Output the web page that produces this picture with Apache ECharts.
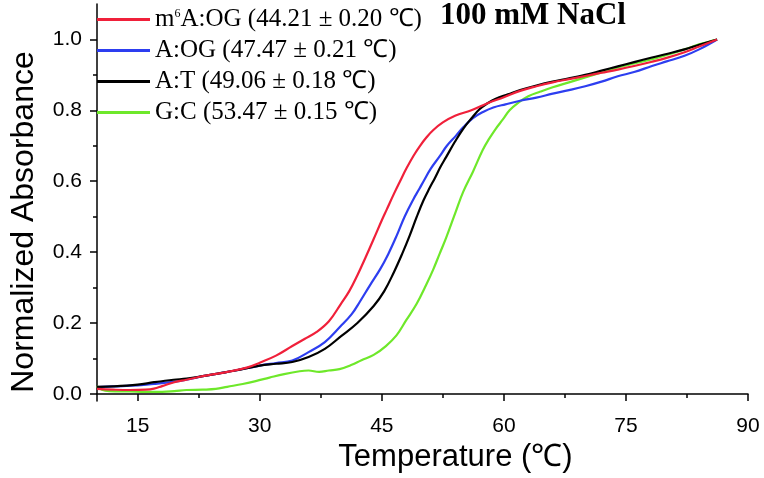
<!DOCTYPE html>
<html><head><meta charset="utf-8">
<script src="https://cdn.jsdelivr.net/npm/echarts@6/dist/echarts.min.js"></script>
<style>html,body{margin:0;padding:0;background:#fff}#c{width:764px;height:478px}</style>
</head><body><div id="c"></div>
<script>
// ---- data ----
const seriesNames = [
  'm6A:OG (44.21 ± 0.20 ℃)',
  'A:OG (47.47 ± 0.21 ℃)',
  'A:T (49.06 ± 0.18 ℃)',
  'G:C (53.47 ± 0.15 ℃)'
];
const seriesColors = ['#f0203a', '#2d3ef0', '#000000', '#6ee82a'];
const xTicks = [15, 30, 45, 60, 75, 90];
const xMinorTicks = [22.5, 37.5, 52.5, 67.5, 82.5];
const yTicks = [0, 0.2, 0.4, 0.6, 0.8, 1.0];
const yMinorTicks = [0.1, 0.3, 0.5, 0.7, 0.9];

const m6AOG = [[10,0.014],[12,0.012],[14,0.011],[16,0.012],[17,0.015],[18,0.022],[19.5,0.033],[21,0.04],[23,0.05],[25,0.058],[26.7,0.065],[28.5,0.075],[30,0.088],[32,0.108],[34,0.135],[35.5,0.155],[37,0.175],[38.5,0.205],[40,0.255],[41,0.29],[42,0.335],[43,0.385],[44,0.437],[45,0.49],[45.6,0.52],[46.5,0.565],[47.2,0.598],[48,0.635],[48.9,0.672],[49.7,0.7],[50.5,0.724],[51.3,0.744],[52.5,0.766],[54,0.785],[56,0.8],[58,0.82],[60,0.837],[62,0.855],[64,0.868],[66,0.879],[68,0.888],[70,0.897],[72,0.906],[74,0.915],[76,0.925],[78.2,0.937],[80,0.948],[82.2,0.964],[84,0.98],[86.2,1.0]];
const AOG = [[10,0.019],[12,0.021],[15,0.024],[17,0.028],[19.4,0.034],[21,0.04],[23,0.05],[25,0.058],[27,0.066],[30,0.08],[32,0.087],[34,0.094],[36,0.118],[38,0.146],[39.9,0.19],[41.3,0.225],[42.3,0.26],[43.5,0.305],[44.8,0.352],[45.8,0.395],[46.8,0.445],[47.8,0.5],[48.9,0.55],[49.6,0.578],[50.2,0.603],[51,0.635],[52.1,0.67],[53,0.7],[54.1,0.728],[55,0.752],[56.2,0.778],[57.5,0.796],[58.7,0.808],[60.2,0.817],[62,0.827],[64,0.836],[66,0.847],[68,0.857],[70,0.868],[72,0.881],[74,0.896],[76,0.908],[78.2,0.925],[80,0.938],[82.2,0.954],[84,0.972],[86.2,1.0]];
const AT = [[10,0.02],[12,0.021],[15,0.026],[17,0.033],[19.4,0.04],[21,0.043],[23,0.05],[25,0.058],[27,0.066],[30,0.08],[32,0.085],[34,0.09],[36,0.104],[38,0.127],[40,0.163],[42,0.2],[44,0.248],[45.3,0.29],[46.5,0.344],[47.5,0.395],[48.4,0.445],[49.3,0.5],[50.1,0.545],[50.9,0.582],[51.5,0.608],[52.2,0.64],[52.9,0.668],[54,0.712],[55,0.748],[56,0.777],[57,0.803],[58,0.82],[59,0.833],[60.5,0.845],[62,0.857],[64,0.87],[66,0.881],[68,0.89],[70,0.9],[72,0.912],[74,0.924],[76,0.936],[78.2,0.949],[80,0.959],[82.2,0.972],[84,0.985],[86.2,1.0]];
const GC = [[10,0.022],[10.6,0.012],[11.5,0.008],[14,0.007],[16,0.006],[18,0.006],[19.5,0.008],[21,0.011],[23,0.012],[24.6,0.014],[26,0.02],[27.9,0.028],[29.5,0.036],[31.2,0.046],[33,0.056],[34.9,0.064],[36,0.066],[37.3,0.062],[38.5,0.066],[39.8,0.07],[41.3,0.082],[42.5,0.095],[44,0.11],[45.5,0.135],[46.8,0.165],[48,0.208],[49.3,0.255],[50.5,0.31],[51.3,0.35],[52.1,0.395],[52.9,0.44],[54.1,0.515],[55,0.57],[56.2,0.627],[57.4,0.688],[58.2,0.72],[59,0.748],[59.9,0.775],[60.7,0.8],[61.8,0.822],[63,0.84],[64.5,0.853],[66,0.865],[68,0.879],[70,0.893],[72,0.907],[74,0.921],[76,0.932],[78.2,0.944],[80,0.956],[82.2,0.972],[84,0.986],[86.2,1.0]];
const seriesData = [m6AOG, AOG, AT, GC];

// ---- chart ----
const chart = echarts.init(document.getElementById('c'), null, {renderer: 'canvas'});
const axisFont = 'Liberation Sans, Arial, sans-serif';
const serifFont = 'Liberation Serif, Times New Roman, serif';
const drawOrder = [3, 1, 2, 0];

const option = {
  backgroundColor: '#fff',
  animation: false,
  title: {
    text: '100 mM NaCl', left: 440, top: 0, padding: 0,
    textStyle: {fontFamily: serifFont, fontWeight: 'bold', fontSize: 31, color: '#000'}
  },
  legend: {
    orient: 'vertical', left: 97, top: 7, padding: 0, itemGap: 6,
    itemWidth: 53, itemHeight: 3, icon: 'rect',
    data: seriesNames,
    formatter: function (name) {
      if (name.indexOf('m6') === 0) return '{t|m}{s|6}{t|' + name.slice(2) + '}';
      return '{t|' + name + '}';
    },
    textStyle: {
      color: '#000', fontFamily: serifFont, fontSize: 25,
      rich: {
        t: {fontFamily: serifFont, fontSize: 25, color: '#000', lineHeight: 22},
        s: {fontFamily: serifFont, fontSize: 12, color: '#000', padding: [0, 0, 12, 0]}
      }
    }
  },
  grid: {left: 88, right: 16, top: 4, bottom: 77},
  xAxis: [{
    type: 'value', min: 10, max: 90,
    name: 'Temperature (℃)', nameLocation: 'middle', nameGap: 40,
    nameTextStyle: {fontFamily: axisFont, fontSize: 31, color: '#000', padding: [0, 0, 0, 66]},
    axisLine: {show: true, lineStyle: {color: '#000', width: 1.5}},
    axisTick: {show: true, customValues: xTicks, length: 7, lineStyle: {color: '#000', width: 1.5}},
    axisLabel: {customValues: xTicks, margin: 15, fontFamily: axisFont, fontSize: 21, color: '#000'},
    splitLine: {show: false}
  }, {
    type: 'value', min: 10, max: 90, position: 'bottom',
    axisLine: {show: false},
    axisTick: {show: true, customValues: xMinorTicks, length: 4, lineStyle: {color: '#000', width: 1.5}},
    axisLabel: {show: false},
    splitLine: {show: false}
  }],
  yAxis: [{
    type: 'value', min: -0.02, max: 1.1,
    name: 'Normalized Absorbance', nameLocation: 'middle', nameGap: 57,
    nameTextStyle: {fontFamily: axisFont, fontSize: 32, color: '#000', padding: [0, 39, 0, 0]},
    axisLine: {show: true, lineStyle: {color: '#000', width: 1.5}},
    axisTick: {show: true, customValues: yTicks, length: 7, lineStyle: {color: '#000', width: 1.5}},
    axisLabel: {customValues: yTicks, margin: 15, fontFamily: axisFont, fontSize: 21, color: '#000',
      formatter: v => v.toFixed(1)},
    splitLine: {show: false}
  }, {
    type: 'value', min: -0.02, max: 1.1, position: 'left',
    axisLine: {show: false},
    axisTick: {show: true, customValues: yMinorTicks, length: 4, lineStyle: {color: '#000', width: 1.5}},
    axisLabel: {show: false},
    splitLine: {show: false}
  }],
  series: drawOrder.map(i => ({
    name: seriesNames[i], type: 'line', xAxisIndex: 0, yAxisIndex: 0,
    data: seriesData[i], showSymbol: false, symbol: 'none',
    smooth: 0.4,
    color: seriesColors[i],
    lineStyle: {color: seriesColors[i], width: 2.2},
    itemStyle: {color: seriesColors[i]}
  }))
};
chart.setOption(option);
</script>
</body></html>
